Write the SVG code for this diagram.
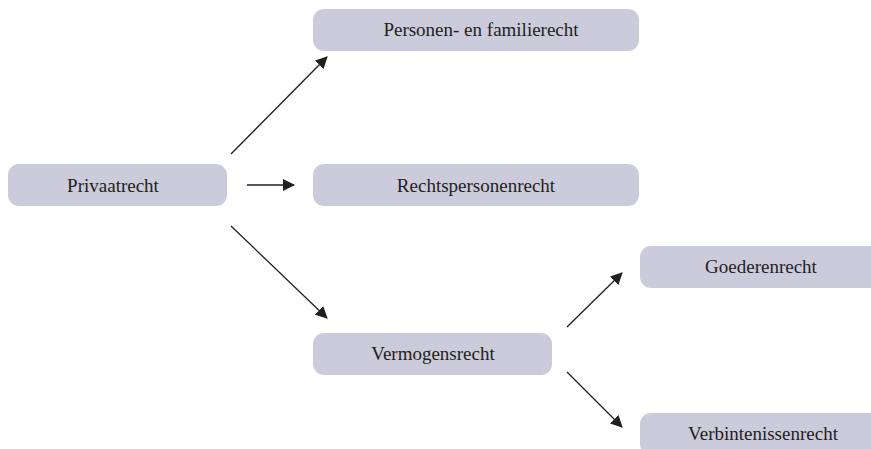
<svg xmlns="http://www.w3.org/2000/svg" width="871" height="449" viewBox="0 0 871 449">
<defs>
<style>
.box{fill:#cccbdb}
.t{font-family:"Liberation Serif","DejaVu Serif",serif;font-size:19px;fill:#231f20;text-anchor:middle;dominant-baseline:central}
.c{stroke:#231f20;stroke-width:1.3;fill:none;marker-end:url(#ah)}
</style>
<marker id="ah" viewBox="0 0 12 12" refX="11" refY="6" markerWidth="12" markerHeight="12" markerUnits="userSpaceOnUse" orient="auto">
<path d="M0,0 L12,6 L0,12 Z" fill="#231f20"/>
</marker>
</defs>
<rect width="871" height="449" fill="#fff"/>
<g id="connectors">
<line class="c" x1="231" y1="154" x2="327" y2="57"/>
<line class="c" x1="247" y1="185" x2="294" y2="185"/>
<line class="c" x1="231" y1="226" x2="327" y2="318"/>
<line class="c" x1="567" y1="327" x2="622" y2="273"/>
<line class="c" x1="567" y1="372" x2="622" y2="427"/>
</g>
<g id="privaatrecht">
<rect class="box" x="8" y="164" width="219" height="42" rx="11"/>
<text class="t" x="113" y="185">Privaatrecht</text>
</g>
<g id="personen">
<rect class="box" x="313" y="9" width="326" height="42" rx="11"/>
<text class="t" x="481" y="29">Personen- en familierecht</text>
</g>
<g id="rechtspersonen">
<rect class="box" x="313" y="164" width="326" height="42" rx="11"/>
<text class="t" x="476" y="185">Rechtspersonenrecht</text>
</g>
<g id="vermogensrecht">
<rect class="box" x="313" y="333" width="239" height="42" rx="11"/>
<text class="t" x="433" y="353">Vermogensrecht</text>
</g>
<g id="goederenrecht">
<rect class="box" x="640" y="246" width="250" height="42" rx="11"/>
<text class="t" x="761" y="266">Goederenrecht</text>
</g>
<g id="verbintenissenrecht">
<rect class="box" x="640" y="413" width="250" height="42" rx="11"/>
<text class="t" x="763" y="433">Verbintenissenrecht</text>
</g>
</svg>
